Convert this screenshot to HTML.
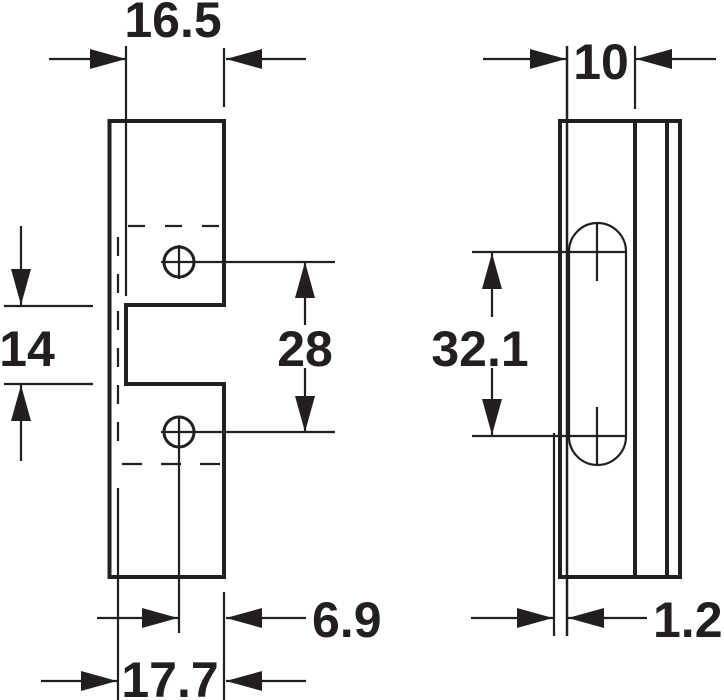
<!DOCTYPE html>
<html><head><meta charset="utf-8"><style>
html,body{margin:0;padding:0;background:#fff;}
svg{display:block;}
text{font-family:"Liberation Sans",Arial,sans-serif;font-weight:bold;fill:#231f20;}
</style></head><body>
<svg width="724" height="700" viewBox="0 0 724 700" xmlns="http://www.w3.org/2000/svg">
<defs>
<marker id="a" viewBox="0 0 36 20" refX="36" refY="10" markerWidth="36" markerHeight="20" markerUnits="userSpaceOnUse" orient="auto"><path d="M0,0 L36,10 L0,20 Z" fill="#231f20"/></marker>
</defs>
<g stroke="#231f20" fill="none" stroke-width="2.2">
<path d="M109.5,121 H224 V305 H126 V384 H224 V577 H109.5 Z" stroke-width="4"/>
<line x1="126" y1="46" x2="126" y2="296"/>
<line x1="118" y1="488" x2="118" y2="700"/>
<line x1="118" y1="237" x2="118" y2="455" stroke-dasharray="19,18"/>
<line x1="128" y1="226" x2="220" y2="226" stroke-dasharray="17,20"/>
<line x1="122" y1="464" x2="220" y2="464" stroke-dasharray="20,19"/>
<circle cx="179" cy="262" r="15" stroke-width="3"/>
<circle cx="179" cy="432" r="15" stroke-width="3"/>
<line x1="161" y1="262" x2="335" y2="262"/>
<line x1="179" y1="245" x2="179" y2="279"/>
<line x1="161" y1="432" x2="335" y2="432"/>
<line x1="179" y1="416" x2="179" y2="633"/>
<line x1="224" y1="48" x2="224" y2="107"/>
<line x1="224" y1="592" x2="224" y2="700"/>
<line x1="49" y1="59" x2="126" y2="59" marker-end="url(#a)"/>
<line x1="306" y1="59" x2="226" y2="59" marker-end="url(#a)"/>
<line x1="305" y1="325" x2="305" y2="262" marker-end="url(#a)"/>
<line x1="305" y1="368" x2="305" y2="432" marker-end="url(#a)"/>
<line x1="4" y1="306" x2="93" y2="306"/>
<line x1="4" y1="384" x2="93" y2="384"/>
<line x1="21" y1="226" x2="21" y2="305" marker-end="url(#a)"/>
<line x1="21" y1="461" x2="21" y2="385" marker-end="url(#a)"/>
<line x1="97" y1="618" x2="178" y2="618" marker-end="url(#a)"/>
<line x1="306" y1="618" x2="226" y2="618" marker-end="url(#a)"/>
<line x1="41" y1="681" x2="117" y2="681" marker-end="url(#a)"/>
<line x1="306" y1="681" x2="226" y2="681" marker-end="url(#a)"/>

<rect x="560" y="121" width="120" height="456" stroke-width="4"/>
<line x1="635" y1="121" x2="635" y2="577" stroke-width="4"/>
<line x1="667" y1="121" x2="667" y2="577" stroke-width="4"/>
<line x1="635" y1="46" x2="635" y2="109"/>
<line x1="567" y1="46" x2="567" y2="636" stroke-width="2.5"/>
<line x1="554" y1="433" x2="554" y2="636"/>
<rect x="569" y="223" width="57" height="242" rx="28.5" ry="28.5"/>
<line x1="597" y1="223" x2="597" y2="281"/>
<line x1="597" y1="407" x2="597" y2="465"/>
<line x1="472" y1="252" x2="625" y2="252"/>
<line x1="472" y1="436" x2="625" y2="436"/>
<line x1="492" y1="317" x2="492" y2="253" marker-end="url(#a)"/>
<line x1="492" y1="368" x2="492" y2="435" marker-end="url(#a)"/>
<line x1="483" y1="59" x2="566" y2="59" marker-end="url(#a)"/>
<line x1="716" y1="59" x2="636" y2="59" marker-end="url(#a)"/>
<line x1="471" y1="618" x2="553" y2="618" marker-end="url(#a)"/>
<line x1="647" y1="618" x2="568" y2="618" marker-end="url(#a)"/>
</g>
<g font-size="50">
<text x="173" y="37" text-anchor="middle">16.5</text>
<text x="601" y="79" text-anchor="middle">10</text>
<text x="305" y="366" text-anchor="middle">28</text>
<text x="27" y="366" text-anchor="middle">14</text>
<text x="480" y="366" text-anchor="middle">32.1</text>
<text x="312" y="637">6.9</text>
<text x="653" y="637">1.2</text>
<text x="170" y="697" text-anchor="middle">17.7</text>
</g>
</svg>
</body></html>
